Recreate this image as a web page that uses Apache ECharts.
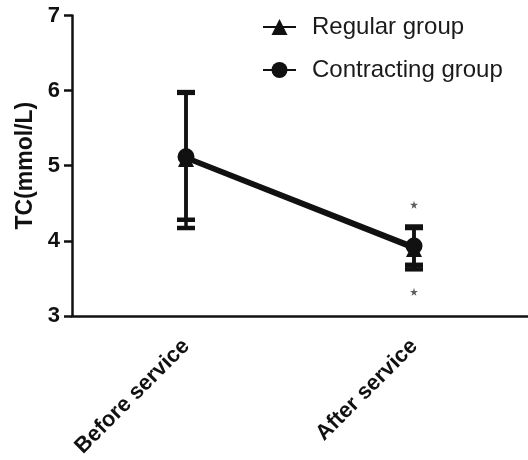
<!DOCTYPE html>
<html><head><meta charset="utf-8">
<script src="https://cdn.jsdelivr.net/npm/echarts@6/dist/echarts.min.js"></script>
<style>html,body{margin:0;padding:0;background:#fff}#c{width:528px;height:460px}</style>
</head><body><div id="c"></div>
<script>
const categories = ['Before service', 'After service'];
const yTicks = [3, 4, 5, 6, 7];
const regularMean = [5.09, 3.89];
const regularUpper = [5.97, 4.17];
const regularLower = [4.28, 3.62];
const contractingMean = [5.12, 3.93];
const contractingUpper = [5.98, 4.19];
const contractingLower = [4.17, 3.68];
const starPoints = [[1, 4.48], [1, 3.32]];

const FONT = '"Liberation Sans", Arial, sans-serif';
const INK = '#111';

function errData(lower, upper) {
  return categories.map((c, i) => [i, lower[i], upper[i]]);
}
function errRender(params, api) {
  const x = api.value(0), lo = api.value(1), hi = api.value(2);
  const pLo = api.coord([x, lo]), pHi = api.coord([x, hi]);
  const hw = 9;
  const st = { stroke: INK, lineWidth: 3.5 };
  const cap = { stroke: INK, lineWidth: 4.5 };
  return {
    type: 'group',
    children: [
      { type: 'line', shape: { x1: pLo[0], y1: pLo[1], x2: pHi[0], y2: pHi[1] }, style: st },
      { type: 'line', shape: { x1: pHi[0] - hw, y1: pHi[1], x2: pHi[0] + hw, y2: pHi[1] }, style: cap },
      { type: 'line', shape: { x1: pLo[0] - hw, y1: pLo[1], x2: pLo[0] + hw, y2: pLo[1] }, style: cap }
    ]
  };
}

const chart = echarts.init(document.getElementById('c'), null, { renderer: 'canvas' });
chart.setOption({
  animation: false,
  backgroundColor: '#fff',
  grid: { left: 72, right: 0, top: 15.5, bottom: 141.5, containLabel: false },
  legend: {
    orient: 'vertical', left: 257, top: 10, itemGap: 19,
    itemWidth: 33, itemHeight: 20,
    textStyle: { fontFamily: FONT, fontSize: 24, color: '#1a1a1a', padding: [0, 0, 0, 11] },
    data: ['Regular group', 'Contracting group']
  },
  xAxis: {
    type: 'category', data: categories, boundaryGap: true,
    axisLine: { lineStyle: { color: INK, width: 2.5 } },
    axisTick: { alignWithLabel: true, length: 7, lineStyle: { color: INK, width: 2.5 } },
    axisLabel: { rotate: 45, margin: 27, fontFamily: FONT, fontWeight: 'bold', fontSize: 22, color: INK }
  },
  yAxis: {
    type: 'value', min: yTicks[0], max: yTicks[yTicks.length - 1], interval: 1,
    name: 'TC(mmol/L)', nameLocation: 'middle', nameGap: 31,
    nameTextStyle: { fontFamily: FONT, fontWeight: 'bold', fontSize: 23, color: INK },
    axisLine: { show: true, lineStyle: { color: INK, width: 2.5 } },
    axisTick: { show: true, length: 8, lineStyle: { color: INK, width: 2.5 } },
    axisLabel: { margin: 12, fontFamily: FONT, fontWeight: 'bold', fontSize: 22, color: INK },
    splitLine: { show: false }
  },
  series: [
    { type: 'custom', name: 'errR', renderItem: errRender, data: errData(regularLower, regularUpper), z: 1, silent: true },
    { type: 'custom', name: 'errC', renderItem: errRender, data: errData(contractingLower, contractingUpper), z: 1, silent: true },
    {
      type: 'line', name: 'Regular group', data: regularMean,
      symbol: 'triangle', symbolSize: 16, itemStyle: { color: INK },
      lineStyle: { color: INK, width: 3.5 }, z: 3
    },
    {
      type: 'line', name: 'Contracting group', data: contractingMean,
      symbol: 'circle', symbolSize: 17, itemStyle: { color: INK },
      lineStyle: { color: INK, width: 3.5 }, z: 4
    },
    {
      type: 'scatter', name: 'sig', data: starPoints,
      symbol: 'path://M50,0 L61,35 L98,35 L68,57 L79,91 L50,70 L21,91 L32,57 L2,35 L39,35 Z',
      symbolSize: 8, itemStyle: { color: '#333' }, silent: true, z: 5
    }
  ]
});
</script></body></html>
